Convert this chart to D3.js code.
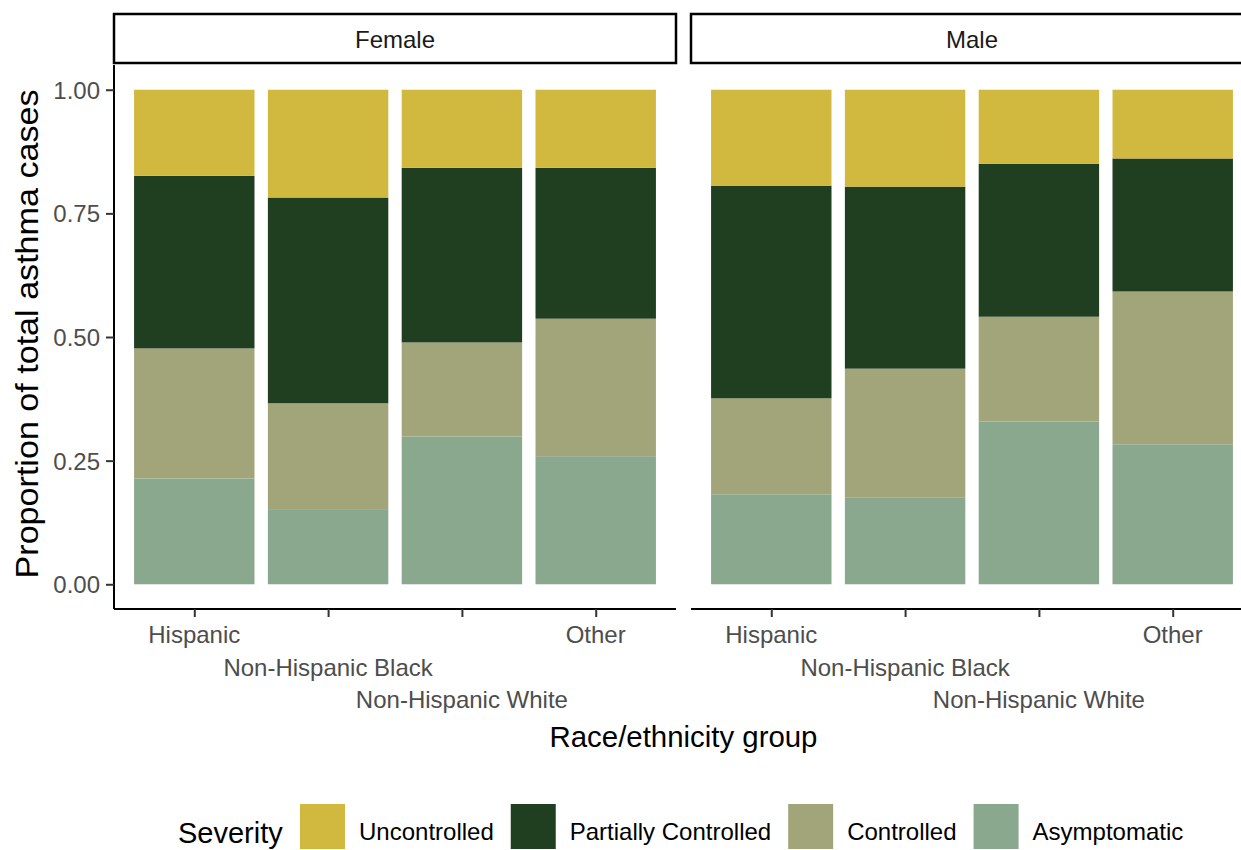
<!DOCTYPE html>
<html lang="en">
<head>
<meta charset="utf-8">
<title>Asthma severity by race/ethnicity and sex</title>
<script src="https://cdn.jsdelivr.net/npm/d3@7"></script>
<style>
  body { margin: 0; background: #fff; }
  svg { font-family: "Liberation Sans", Arial, Helvetica, sans-serif; display: block; }
  .tick text { fill: #4d4d4d; }
</style>
</head>
<body>
<div id="chart"></div>
<script>
// categories and values
var sexes = ["Female", "Male"];
var groups = ["Hispanic", "Non-Hispanic Black", "Non-Hispanic White", "Other"];
var severities = ["Uncontrolled", "Partially Controlled", "Controlled", "Asymptomatic"];
var colors = ["#d1b83e", "#203f20", "#a2a57a", "#8aa88e"];
var yTicks = [0, 0.25, 0.5, 0.75, 1];

// proportions per group, order follows `groups`
var femaleAsymptomatic = [0.214, 0.152, 0.299, 0.259];
var femaleControlled   = [0.263, 0.214, 0.190, 0.278];
var femalePartial      = [0.349, 0.416, 0.353, 0.305];
var femaleUncontrolled = [0.174, 0.218, 0.158, 0.158];

var maleAsymptomatic = [0.182, 0.176, 0.329, 0.283];
var maleControlled   = [0.194, 0.260, 0.212, 0.309];
var malePartial      = [0.430, 0.368, 0.309, 0.269];
var maleUncontrolled = [0.194, 0.196, 0.150, 0.139];

function rows(asym, ctrl, part, unc) {
  return groups.map(function(g, i) {
    return {group: g, "Asymptomatic": asym[i], "Controlled": ctrl[i],
            "Partially Controlled": part[i], "Uncontrolled": unc[i]};
  });
}
var data = {
  Female: rows(femaleAsymptomatic, femaleControlled, femalePartial, femaleUncontrolled),
  Male: rows(maleAsymptomatic, maleControlled, malePartial, maleUncontrolled)
};

var width = 1241, height = 850;
var panelTop = 65, panelBottom = 609, panelW = 562, panelGap = 15, left0 = 114;

var svg = d3.select("#chart").append("svg")
  .attr("width", width).attr("height", height);

var y = d3.scaleLinear().domain([-0.05, 1.05]).range([panelBottom, panelTop]);
var color = d3.scaleOrdinal().domain(severities).range(colors);

// stack from the bottom: Asymptomatic first
var stack = d3.stack().keys(severities.slice().reverse());

sexes.forEach(function(sex, p) {
  var x0 = left0 + p * (panelW + panelGap);
  var x = d3.scalePoint().domain(groups).range([x0, x0 + panelW]).padding(0.6);
  var barW = x.step() * 0.9;

  var g = svg.append("g");

  // strip
  g.append("rect")
    .attr("x", x0).attr("y", 14).attr("width", panelW).attr("height", 49)
    .attr("fill", "#fff").attr("stroke", "#000").attr("stroke-width", 2.5);
  g.append("text")
    .attr("x", x0 + panelW / 2).attr("y", 48)
    .attr("text-anchor", "middle").attr("font-size", 24).attr("fill", "#1a1a1a")
    .text(sex);

  // bars
  var series = stack(data[sex]);
  g.selectAll(".layer")
    .data(series)
    .enter().append("g")
    .attr("fill", function(d) { return color(d.key); })
    .selectAll("rect")
    .data(function(d) { return d; })
    .enter().append("rect")
    .attr("x", function(d) { return x(d.data.group) - barW / 2; })
    .attr("width", barW)
    .attr("y", function(d) { return y(d[1]); })
    .attr("height", function(d) { return y(d[0]) - y(d[1]); });

  // x axis
  var xAxis = g.append("g")
    .attr("transform", "translate(0," + panelBottom + ")")
    .call(d3.axisBottom(x).tickSize(8).tickSizeOuter(0).tickFormat(""));
  xAxis.select(".domain").attr("stroke", "#000").attr("stroke-width", 2)
    .attr("d", "M" + x0 + ",0H" + (x0 + panelW));
  xAxis.selectAll(".tick line").attr("stroke", "#333").attr("stroke-width", 2);

  // dodged labels, three rows
  g.selectAll(".xlab")
    .data(groups)
    .enter().append("text")
    .attr("class", "xlab")
    .attr("x", function(d) { return x(d); })
    .attr("y", function(d, i) { return panelBottom + 34 + (i % 3) * 32.5; })
    .attr("text-anchor", "middle").attr("font-size", 24).attr("fill", "#4d4d4d")
    .text(function(d) { return d; });

  if (p === 0) {
    var yAxis = g.append("g")
      .attr("transform", "translate(" + x0 + ",0)")
      .call(d3.axisLeft(y).tickValues(yTicks).tickSize(8).tickPadding(6)
        .tickFormat(d3.format(".2f")));
    yAxis.select(".domain").attr("stroke", "#000").attr("stroke-width", 2)
      .attr("d", "M0," + panelTop + "V" + panelBottom);
    yAxis.selectAll(".tick line").attr("stroke", "#333").attr("stroke-width", 2);
    yAxis.selectAll(".tick text").attr("font-size", 24).attr("dy", "0.35em");
  }
});

// axis titles (the y title is a bit longer in the picture, so stretch it along its run)
svg.append("text")
  .attr("transform", "translate(38," + ((panelTop + panelBottom) / 2 - 3) + ") rotate(-90) scale(1.1,1)")
  .attr("text-anchor", "middle").attr("font-size", 31).attr("fill", "#000")
  .text("Proportion of total asthma cases");

svg.append("text")
  .attr("x", left0 + (2 * panelW + panelGap) / 2).attr("y", 747)
  .attr("text-anchor", "middle").attr("font-size", 29.4).attr("fill", "#000")
  .text("Race/ethnicity group");

// legend
var legend = svg.append("g");
legend.append("text")
  .attr("x", 178).attr("y", 843).attr("font-size", 29).attr("fill", "#000")
  .text("Severity");

var lx = 300;
severities.forEach(function(s) {
  legend.append("rect")
    .attr("x", lx).attr("y", 804).attr("width", 45).attr("height", 45)
    .attr("fill", color(s));
  var t = legend.append("text")
    .attr("x", lx + 59).attr("y", 840).attr("font-size", 24).attr("fill", "#000")
    .text(s);
  lx = lx + 59 + t.node().getComputedTextLength() + 17;
});
</script>
</body>
</html>
